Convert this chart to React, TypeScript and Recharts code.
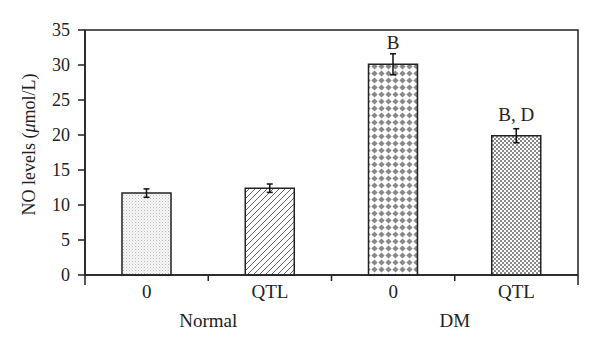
import React from 'react';
import {
  BarChart, Bar, XAxis, YAxis, ErrorBar, LabelList, ReferenceArea, Label
} from 'recharts';

// values
const groups = ['Normal', 'Normal', 'DM', 'DM'];
const doses = ['0', 'QTL', '0', 'QTL'];
const noLevels = [11.7, 12.4, 30.1, 19.9];
const noErrors = [0.6, 0.6, 1.5, 1.0];
const sigMarks = ['', '', 'B', 'B, D'];
const patternIds = ['stipple', 'hatch', 'diamond', 'checker'];
const yTicks = [0, 5, 10, 15, 20, 25, 30, 35];
const yDomain: [number, number] = [0, 35];

const data = doses.map((d, i) => ({
  key: `${groups[i]}-${d}`,
  value: noLevels[i],
  err: noErrors[i],
  sig: sigMarks[i],
  fill: `url(#${patternIds[i]})`,
}));

const FONT = '"Liberation Serif", "Times New Roman", serif';
const INK = '#222';

// category tick: label, boundary tick marks and group label
const CategoryTick = (props: any) => {
  const { x, y, payload, index } = props;
  const half = payload.offset || 0;
  const last = index === doses.length - 1;
  const firstOfGroup = index === 0 || groups[index] !== groups[index - 1];
  return (
    <g>
      <line x1={x - half} y1={y} x2={x - half} y2={y + (index === 0 ? 10 : 6)} stroke={INK} strokeWidth={1.5} />
      {last && <line x1={x + half} y1={y} x2={x + half} y2={y + 10} stroke={INK} strokeWidth={1.5} />}
      <text x={x} y={y + 23} textAnchor="middle" fontFamily={FONT} fontSize={19} fill={INK}>
        {doses[index]}
      </text>
      {firstOfGroup && (
        <text x={x + half} y={y + 52} textAnchor="middle" fontFamily={FONT} fontSize={19} fill={INK}>
          {groups[index]}
        </text>
      )}
    </g>
  );
};

const YLabel = (props: any) => {
  const { viewBox } = props;
  const cx = viewBox.x + 35;
  const cy = viewBox.y + viewBox.height / 2 - 8;
  return (
    <text
      x={cx}
      y={cy}
      transform={`rotate(-90, ${cx}, ${cy})`}
      textAnchor="middle"
      fontFamily={FONT}
      fontSize={18}
      fill={INK}
    >
      NO levels (<tspan fontStyle="italic">μ</tspan>mol/L)
    </text>
  );
};

export default function App() {
  return (
    <div style={{ position: 'absolute', left: 0, top: 0, width: 600, height: 349, background: '#fff' }}>
      <BarChart
        width={600}
        height={349}
        data={data}
        margin={{ top: 30, right: 22, left: 0, bottom: 0 }}
      >
        <defs>
          <pattern id="stipple" width="3" height="3" patternUnits="userSpaceOnUse">
            <rect width="3" height="3" fill="#f6f6f6" />
            <rect x="0" y="0" width="1" height="1" fill="#bdbdbd" />
            <rect x="1.5" y="1.5" width="1" height="1" fill="#d6d6d6" />
          </pattern>
          <pattern id="hatch" width="6" height="6" patternUnits="userSpaceOnUse">
            <rect width="6" height="6" fill="#fff" />
            <path d="M0,6 L6,0 M-1.5,1.5 L1.5,-1.5 M4.5,7.5 L7.5,4.5" stroke="#666" strokeWidth="1" />
          </pattern>
          <pattern id="diamond" width="7" height="7" patternUnits="userSpaceOnUse">
            <rect width="7" height="7" fill="#fff" />
            <polygon points="3.5,0.4 6.6,3.5 3.5,6.6 0.4,3.5" fill="#888" />
          </pattern>
          <pattern id="checker" width="4" height="4" patternUnits="userSpaceOnUse">
            <rect width="4" height="4" fill="#fff" />
            <rect x="0" y="0" width="2" height="2" fill="#8a8a8a" />
            <rect x="2" y="2" width="2" height="2" fill="#8a8a8a" />
          </pattern>
        </defs>
        <XAxis
          dataKey="key"
          tickLine={false}
          tickSize={0}
          tickMargin={0}
          axisLine={{ stroke: INK, strokeWidth: 1.5 }}
          tick={<CategoryTick />}
          interval={0}
          height={74}
        />
        <YAxis
          domain={yDomain}
          ticks={yTicks}
          width={85}
          tickSize={7}
          tickMargin={8}
          axisLine={{ stroke: INK, strokeWidth: 1.5 }}
          tickLine={{ stroke: INK, strokeWidth: 1.5 }}
          tick={{ fill: INK, fontSize: 18, fontFamily: FONT }}
        >
          <Label content={<YLabel />} />
        </YAxis>
        <ReferenceArea y1={yDomain[0]} y2={yDomain[1]} fill="none" stroke={INK} strokeWidth={1.5} ifOverflow="visible" />
        <Bar
          dataKey="value"
          barSize={49}
          stroke={INK}
          strokeWidth={1.5}
          isAnimationActive={false}
        >
          <ErrorBar dataKey="err" width={3} stroke="#111" strokeWidth={1.5} />
          <LabelList dataKey="sig" position="top" offset={15} fill={INK} fontSize={19} fontFamily={FONT} />
        </Bar>
      </BarChart>
    </div>
  );
}
